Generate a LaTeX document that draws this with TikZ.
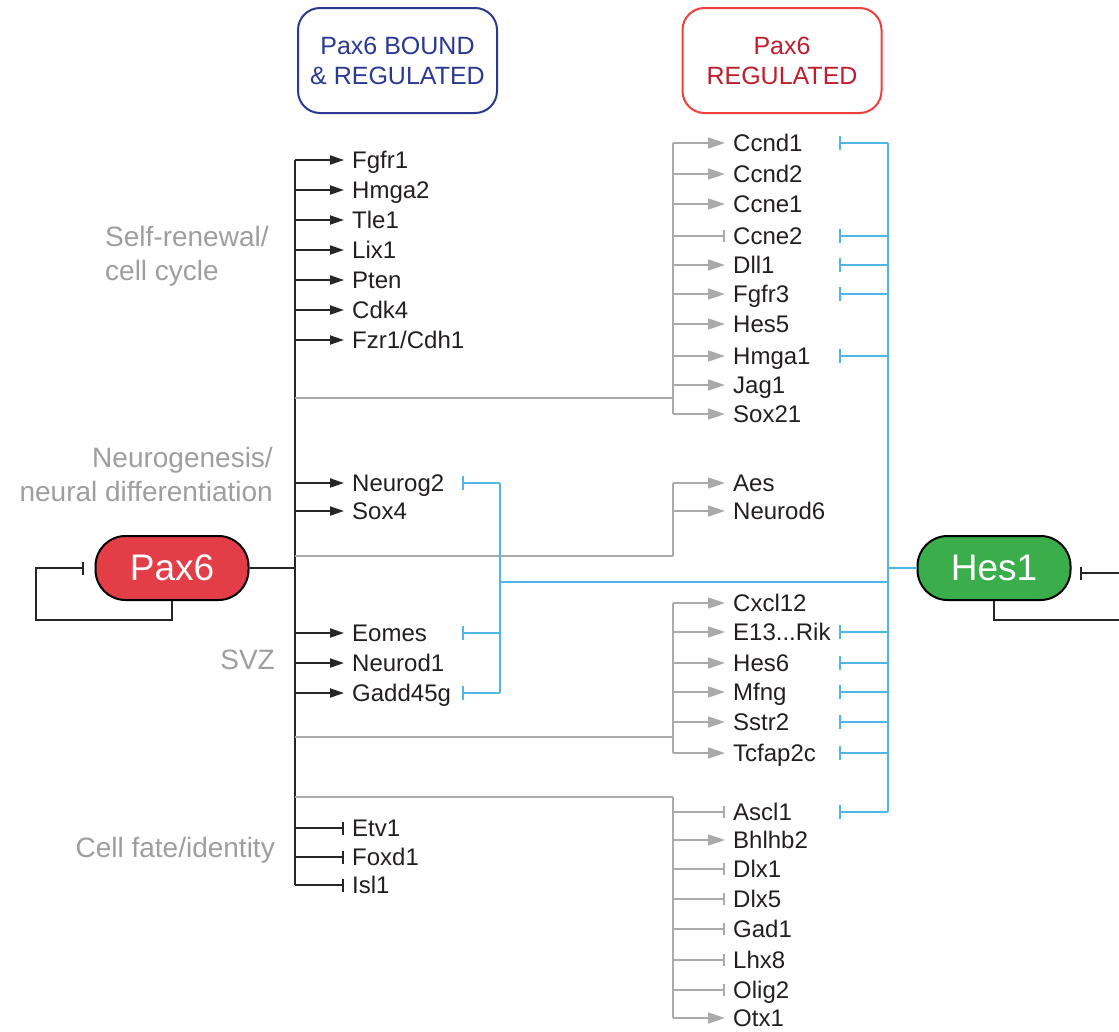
\documentclass[tikz,border=0pt]{standalone}
\usepackage{fontspec}
\setmainfont{Liberation Sans}
\usepackage{tikz}
\usetikzlibrary{arrows.meta,positioning}
\definecolor{paxred}{RGB}{227,62,72}
\definecolor{hesgreen}{RGB}{58,174,74}
\definecolor{hesblue}{RGB}{80,182,230}
\definecolor{lngray}{RGB}{170,170,170}
\definecolor{catgray}{RGB}{158,158,158}
\definecolor{hdrblue}{RGB}{43,57,144}
\definecolor{hdrred}{RGB}{238,62,62}
\definecolor{hdrredtxt}{RGB}{190,30,45}
\definecolor{genetxt}{RGB}{35,31,32}
\newcommand{\erikname}{E13...Rik}

\begin{document}
\begin{tikzpicture}[x=1pt, y=-1pt,
    gene/.style={anchor=west, inner xsep=8pt, inner ysep=0pt, text height=23.6pt,
      text depth=6.4pt, font=\fontsize{24}{28}\selectfont, text=genetxt},
    category/.style={text=catgray, font=\fontsize{28}{34}\selectfont, inner sep=0pt},
    header/.style={line width=2pt, rounded corners=22pt, minimum width=199pt,
      minimum height=105pt, align=center, font=\fontsize{25}{30}\selectfont},
    tf/.style={draw=black, line width=2pt, rounded corners=30pt, minimum width=153pt,
      minimum height=64pt, text=white, font=\fontsize{37}{40}\selectfont},
    blkln/.style={draw=black!85, line width=2pt},
    blkarr/.style={blkln, -{Triangle[length=14pt,width=9pt]}},
    blkinh/.style={blkln, -{Bar[width=13pt]}},
    grayln/.style={draw=lngray, line width=1.6pt},
    grayarr/.style={grayln, -{Triangle[length=17pt,width=11pt]}},
    grayinh/.style={grayln, -{Bar[width=12pt]}},
    bluln/.style={draw=hesblue, line width=1.8pt},
    bluinh/.style={bluln, -{Bar[width=14pt]}}]
\useasboundingbox (0,0) rectangle (1119,1031);

% headers
\node[header, draw=hdrblue, text=hdrblue] (hdrbound) at (397.5,60.5) {Pax6 BOUND\\\& REGULATED};
\node[header, draw=hdrred, text=hdrredtxt] (hdrreg) at (782,60.5) {Pax6\\REGULATED};

% transcription factors
\node[tf, fill=paxred] (pax6) at (172,568) {Pax6};
\node[tf, fill=hesgreen] (hes1) at (994,568) {Hes1};

% Pax6 bound genes
\foreach \n/\t/\y in {fgfr1/Fgfr1/160, hmga2/Hmga2/190, tle1/Tle1/220, lix1/Lix1/250,
    pten/Pten/280, cdk4/Cdk4/310, fzr1/{Fzr1/Cdh1}/340, neurog2/Neurog2/483, sox4/Sox4/511,
    eomes/Eomes/633, neurod1/Neurod1/663, gadd45g/Gadd45g/693,
    etv1/Etv1/828, foxd1/Foxd1/857, isl1/Isl1/885}
  \node[gene] (\n) at (344,\y) {\t};

% Pax6 regulated genes
\foreach \n/\t/\y in {ccnd1/Ccnd1/143, ccnd2/Ccnd2/174, ccne1/Ccne1/204, ccne2/Ccne2/236,
    dll1/Dll1/265, fgfr3/Fgfr3/294, hes5/Hes5/324, hmga1/Hmga1/356, jag1/Jag1/385,
    sox21/Sox21/414, aes/Aes/483, neurod6/Neurod6/511,
    cxcl12/Cxcl12/603, e13rik/\erikname/632, hes6/Hes6/663, mfng/Mfng/692,
    sstr2/Sstr2/722, tcfap2c/Tcfap2c/753,
    ascl1/Ascl1/812, bhlhb2/Bhlhb2/840, dlx1/Dlx1/869, dlx5/Dlx5/899, gad1/Gad1/929,
    lhx8/Lhx8/960, olig2/Olig2/990, otx1/Otx1/1018}
  \node[gene] (\n) at (725,\y) {\t};

% categories
\node[category, align=left, anchor=west] (selfren) at (105,256) {Self-renewal/\\cell cycle};
\node[category, align=right, anchor=east] (neurogen) at (273,474) {Neurogenesis/\\neural differentiation};
\node[category, anchor=east] (svz) at (275,660) {SVZ};
\node[category, anchor=east] (fate) at (275,850) {Cell fate/identity};

% Pax6 trunk
\coordinate (trunk) at (295,160);
\draw[blkln] (trunk |- fgfr1) -- (trunk |- isl1);
\draw[blkln] (pax6.east) -- (pax6.east -| trunk);
\coordinate (paxloop) at (36,620);
\draw[blkinh, shorten >=11pt] (pax6.south) |- (paxloop) |- (pax6.west);
\foreach \n in {fgfr1,hmga2,tle1,lix1,pten,cdk4,fzr1,neurog2,sox4,eomes,neurod1,gadd45g}
  \draw[blkarr] (trunk |- \n.west) -- (\n.west);
\foreach \n in {etv1,foxd1,isl1}
  \draw[blkinh] (trunk |- \n.west) -- (\n.west);

% indirect (regulated only) branches
\coordinate (gA) at (673,398);
\coordinate (gB) at (673,556);
\coordinate (gC) at (673,737);
\coordinate (gD) at (673,797);
\foreach \g in {gA,gB,gC,gD}
  \draw[grayln] (trunk |- \g) -- (\g);
\draw[grayln] (gA |- ccnd1) -- (gA |- sox21);
\draw[grayln] (gB |- aes) -- (gB);
\draw[grayln] (gC |- cxcl12) -- (gC |- tcfap2c);
\draw[grayln] (gD) -- (gD |- otx1);
\foreach \n in {ccnd1,ccnd2,ccne1,dll1,fgfr3,hes5,hmga1,jag1,sox21,aes,neurod6,
    cxcl12,e13rik,hes6,mfng,sstr2,tcfap2c,bhlhb2,otx1}
  \draw[grayarr] (gA |- \n.west) -- (\n.west);
\foreach \n in {ccne2,ascl1,dlx1,dlx5,gad1,lhx8,olig2}
  \draw[grayinh] (gA |- \n.west) -- (\n.west);

% Hes1 repression
\coordinate (hesbus) at (888,143);
\coordinate (barR) at (839,143);
\coordinate (lbus) at (500,582);
\coordinate (barL) at (462,582);
\draw[bluln] (hesbus |- ccnd1) -- (hesbus |- ascl1);
\draw[bluln] (hes1.west) -- (hes1.west -| hesbus);
\draw[bluln] (lbus |- neurog2) -- (lbus |- gadd45g);
\draw[bluln] (lbus) -- (lbus -| hesbus);
\foreach \n in {ccnd1,ccne2,dll1,fgfr3,hmga1,e13rik,hes6,mfng,sstr2,tcfap2c,ascl1}
  \draw[bluinh] (hesbus |- \n.west) -- (barR |- \n.west);
\foreach \n in {neurog2,eomes,gadd45g}
  \draw[bluinh] (lbus |- \n.west) -- (barL |- \n.west);

% Hes1 self-repression
\coordinate (hesloopA) at (1119,620);
\coordinate (hesloopB) at (1119,573);
\draw[blkln] (hes1.south) |- (hesloopA);
\draw[blkinh, shorten >=8pt] (hesloopB) -- (hesloopB -| hes1.east);
\end{tikzpicture}
\end{document}
